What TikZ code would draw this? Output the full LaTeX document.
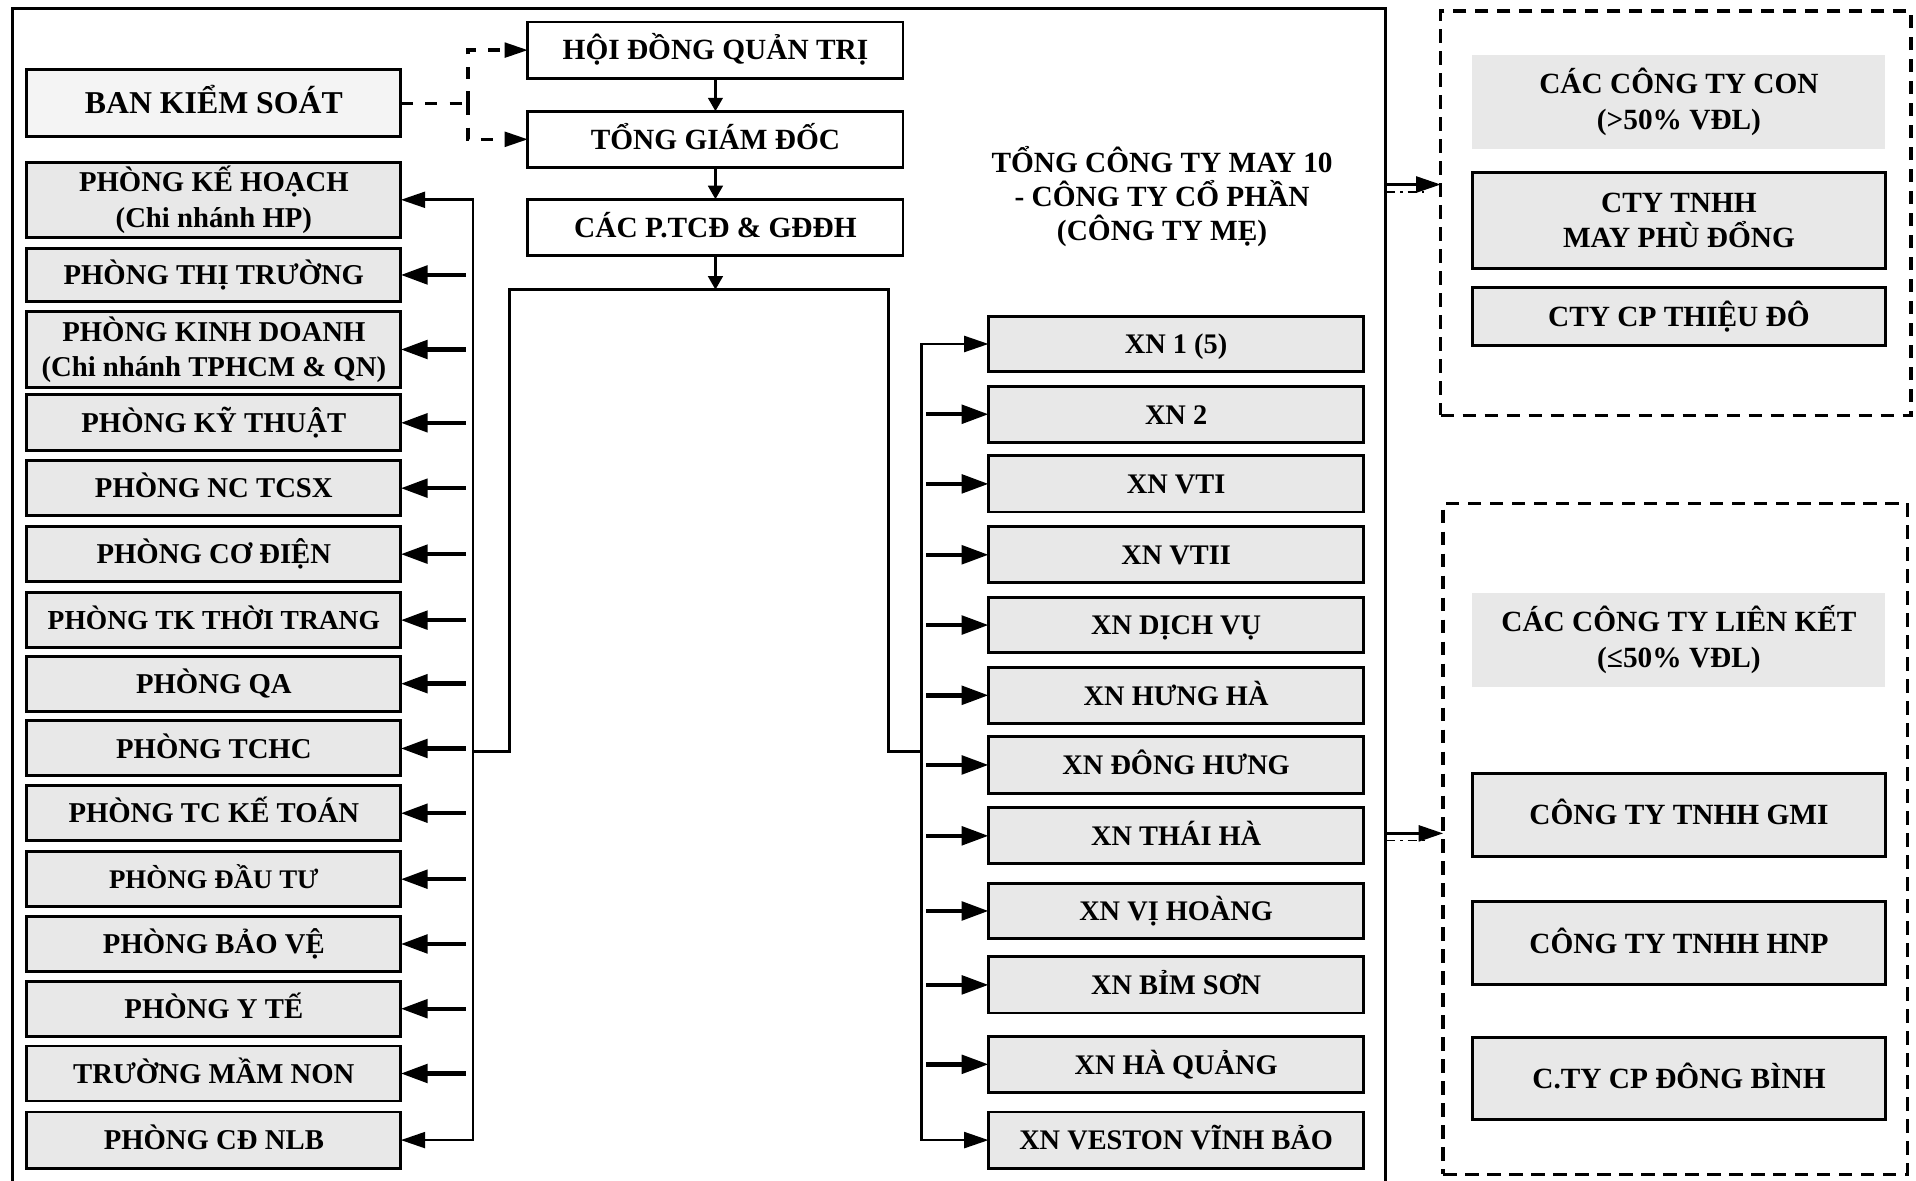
\documentclass[tikz,border=0pt]{standalone}
\usepackage{fontspec}
\setmainfont{Liberation Serif}
\usetikzlibrary{arrows.meta,calc}
\definecolor{boxgray}{HTML}{E8E8E8}
\definecolor{bksgray}{HTML}{F4F4F4}
\begin{document}
\begin{tikzpicture}[x=0.5pt,y=-0.5pt,
  every node/.style={inner sep=0pt, outer sep=0pt, align=center},
  sl/.style={text height=9pt, text depth=1pt},
  bx/.style={draw=black, line width=1.2pt, fill=boxgray, font=\bfseries\fontsize{11.75}{14.5}\selectfont, minimum width=153pt},
  lb/.style={bx, sl, minimum height=22.5pt},
  lbb/.style={bx, minimum height=30.5pt},
  mb/.style={draw=black, line width=1.2pt, fill=white, sl, font=\bfseries\fontsize{12}{14.5}\selectfont, minimum width=153.5pt, minimum height=23pt},
  xb/.style={bx, sl, minimum width=153.5pt, minimum height=22.5pt, font=\bfseries\fontsize{11.6}{14}\selectfont},
  rb/.style={bx, minimum width=169pt, font=\bfseries\fontsize{12}{14.5}\selectfont},
  hd/.style={fill=boxgray, minimum width=169pt, minimum height=38.5pt, font=\bfseries\fontsize{12}{14.5}\selectfont},
  dbox/.style={draw=black, line width=1.35pt, dash pattern=on 5.5pt off 3.5pt},
  arrthin/.style={line width=1.1pt, -{Triangle[length=10pt,width=6.5pt]}},
  arrboth/.style={line width=1.1pt, {Triangle[length=10pt,width=6.5pt]}-{Triangle[length=10pt,width=6.5pt]}},
  arrstub/.style={line width=1.8pt, -{Triangle[length=11pt,width=7.5pt]}},
  arrsmall/.style={line width=1pt, -{Triangle[length=5.5pt,width=6pt]}},
  busline/.style={line width=1.1pt},
  dashln/.style={line width=1.35pt, dash pattern=on 5pt off 5pt},
  dashdotln/.style={line width=0.6pt, dash pattern=on 4pt off 2pt on 1pt off 2pt},
]
\useasboundingbox (0,0) rectangle (1568,966);
\clip (0,0) rectangle (1568,966);

% mother company frame
\node[draw=black, line width=1.1pt, minimum width=562pt, minimum height=489pt] (mother) at (572,496) {};
\node[font=\bfseries\fontsize{12}{14}\selectfont] (mtitle) at (951,161) {TỔNG CÔNG TY MAY 10\\- CÔNG TY CỔ PHẦN\\(CÔNG TY MẸ)};

% top management
\node[mb] (hdqt) at (585.5,41) {HỘI ĐỒNG QUẢN TRỊ};
\node[mb] (tgd) at (585.5,114) {TỔNG GIÁM ĐỐC};
\node[mb] (tcd) at (585.5,186) {CÁC P.TCĐ \& GĐĐH};

% left column
\node[bx, fill=bksgray, minimum height=27.5pt, text height=9.7pt, text depth=1pt, font=\bfseries\fontsize{13}{15}\selectfont] (bks) at (175,84.5) {BAN KIỂM SOÁT};
\node[lbb] (kh) at (175,163.5) {PHÒNG KẾ HOẠCH\\(Chi nhánh HP)};
\node[lb, minimum height=22pt] (tt) at (175,225) {PHÒNG THỊ TRƯỜNG};
\node[lbb, minimum height=31pt] (kd) at (175,286) {PHÒNG KINH DOANH\\(Chi nhánh TPHCM \& QN)};
\node[lb, minimum height=23pt] (kt) at (175,346) {PHÒNG KỸ THUẬT};
\node[lb] (nc) at (175,399.5) {PHÒNG NC TCSX};
\node[lb] (cdien) at (175,453.5) {PHÒNG CƠ ĐIỆN};
\node[lb, font=\bfseries\fontsize{11.25}{14}\selectfont] (tk) at (175,507.5) {PHÒNG TK THỜI TRANG};
\node[lb] (qa) at (175,559.5) {PHÒNG QA};
\node[lb] (tchc) at (175,612.5) {PHÒNG TCHC};
\node[lb] (ktoan) at (175,665.5) {PHÒNG TC KẾ TOÁN};
\node[lb, font=\bfseries\fontsize{11}{14}\selectfont] (dt) at (175,719.5) {PHÒNG ĐẦU TƯ};
\node[lb] (bv) at (175,772.5) {PHÒNG BẢO VỆ};
\node[lb] (yt) at (175,825.5) {PHÒNG Y TẾ};
\node[lb] (mn) at (175,878.5) {TRƯỜNG MẦM NON};
\node[lb, minimum height=23pt] (cd) at (175,933) {PHÒNG CĐ NLB};

% right column (XN)
\node[xb] (x1) at (962.5,281.5) {XN 1 (5)};
\node[xb, minimum height=23pt] (x2) at (962.5,339) {XN 2};
\node[xb, minimum height=23pt] (x3) at (962.5,396) {XN VTI};
\node[xb, minimum height=23pt] (x4) at (962.5,454) {XN VTII};
\node[xb] (x5) at (962.5,511.5) {XN DỊCH VỤ};
\node[xb, minimum height=23pt] (x6) at (962.5,569) {XN HƯNG HÀ};
\node[xb, minimum height=23pt] (x7) at (962.5,626) {XN ĐÔNG HƯNG};
\node[xb, minimum height=23pt] (x8) at (962.5,684) {XN THÁI HÀ};
\node[xb] (x9) at (962.5,745.5) {XN VỊ HOÀNG};
\node[xb, minimum height=23pt] (x10) at (962.5,806) {XN BỈM SƠN};
\node[xb, minimum height=23pt] (x11) at (962.5,871) {XN HÀ QUẢNG};
\node[xb, minimum height=23pt] (x12) at (962.5,933) {XN VESTON VĨNH BẢO};

% subsidiaries
\node[dbox, minimum width=192.5pt, minimum height=165.5pt] (conbox) at (1371.5,174.5) {};
\node[hd] (conhd) at (1374,83.5) {CÁC CÔNG TY CON\\(>50\% VĐL)};
\node[rb, minimum height=39.5pt] (phudong) at (1374,180.5) {CTY TNHH\\MAY PHÙ ĐỔNG};
\node[rb, sl, minimum height=24pt] (thieudo) at (1374,259) {CTY CP THIỆU ĐÔ};

% associates
\node[dbox, minimum width=190pt, minimum height=274.5pt] (lkbox) at (1371,686.5) {};
\node[hd] (lkhd) at (1374,523.5) {CÁC CÔNG TY LIÊN KẾT\\(≤50\% VĐL)};
\node[rb, sl, minimum height=34pt] (gmi) at (1374,667) {CÔNG TY TNHH GMI};
\node[rb, sl, minimum height=34pt] (hnp) at (1374,772) {CÔNG TY TNHH HNP};
\node[rb, sl, minimum height=33.5pt] (dbinh) at (1374,882.5) {C.TY CP ĐÔNG BÌNH};

% helper coordinates
\coordinate (bj) at (383,84.5);
\coordinate (lbx) at (387,0);
\coordinate (lstub) at (381,0);
\coordinate (rbx) at (754,0);
\coordinate (rstub) at (758,0);
\coordinate (ctop) at (585.5,237);
\coordinate (cl) at (417,237);
\coordinate (cr) at (727,237);
\coordinate (jy) at (0,615);
\coordinate (ya) at (0,151);
\coordinate (yb) at (0,157);
\coordinate (yc) at (0,682);
\coordinate (yd) at (0,688);

% supervisory board dashed links
\draw[dashln] (bks.east) -- (bj);
\draw[dashln, -{Triangle[length=9.5pt,width=6pt]}] (bj) |- (hdqt.west);
\draw[dashln, -{Triangle[length=9.5pt,width=6pt]}] (bj) |- (tgd.west);

% chain of command
\draw[arrsmall] (hdqt) -- (tgd);
\draw[arrsmall] (tgd) -- (tcd);
\draw[arrsmall] (tcd.south) -- (ctop);

% distribution frame
\draw[busline] (lbx |- jy) -- (cl |- jy) -- (cl) -- (cr) -- (cr |- jy) -- (rbx |- jy);

% left bus
\draw[arrboth] (kh.east) -- (kh.east -| lbx) -- (cd.east -| lbx) -- (cd.east);
\foreach \n in {tt,kd,kt,nc,cdien,tk,qa,tchc,ktoan,dt,bv,yt,mn}
  \draw[arrstub] (\n.east -| lstub) -- (\n.east);

% right bus
\draw[arrboth] (x1.west) -- (x1.west -| rbx) -- (x12.west -| rbx) -- (x12.west);
\foreach \n in {x2,x3,x4,x5,x6,x7,x8,x9,x10,x11}
  \draw[arrstub] (\n.west -| rstub) -- (\n.west);

% links to subsidiaries / associates
\draw[arrthin] (mother.east |- ya) -- (conbox.west |- ya);
\draw[dashdotln] (mother.east |- yb) -- ($(conbox.west |- yb)+(-14,0)$);
\draw[arrthin] (mother.east |- yc) -- (lkbox.west |- yc);
\draw[dashdotln] (mother.east |- yd) -- ($(lkbox.west |- yd)+(-14,0)$);
\end{tikzpicture}
\end{document}
